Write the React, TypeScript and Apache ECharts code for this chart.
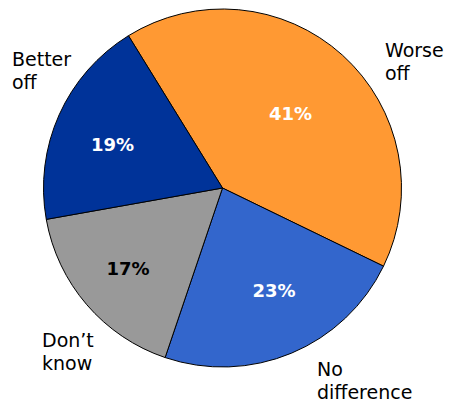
import React, { useEffect, useRef } from "react";
import * as echarts from "echarts";

const categories = ["Worse off", "No difference", "Don’t know", "Better off"];
const values = [41, 23, 17, 19];
const colors = ["#FF9933", "#3366CC", "#999999", "#003399"];
const valueTextColors = ["#FFFFFF", "#FFFFFF", "#000000", "#FFFFFF"];

// label anchor positions (px) for percent labels (centre) and category labels (left, middle)
const valueLabelPos = [
  [290.5, 113],
  [274, 290],
  [128, 268.5],
  [112.5, 144],
];
const nameLabelPos = [
  [385, 61],
  [317, 380],
  [42, 351],
  [12, 70],
];

export default function App() {
  const ref = useRef<HTMLDivElement>(null);
  useEffect(() => {
    if (!ref.current) return;
    const chart = echarts.init(ref.current, undefined, { renderer: "svg" });
    const data = categories.map((name, i) => ({
      name,
      value: values[i],
      itemStyle: { color: colors[i] },
      label: { color: valueTextColors[i] },
    }));
    chart.setOption({
      animation: false,
      series: [
        {
          type: "pie",
          center: [222.5, 188],
          radius: 179,
          startAngle: 121.7,
          clockwise: true,
          avoidLabelOverlap: false,
          itemStyle: { borderColor: "#000000", borderWidth: 1 },
          label: {
            show: true,
            position: "inside",
            formatter: "{c}%",
            fontFamily: "DejaVu Sans",
            fontWeight: "bold",
            fontSize: 18,
          },
          labelLine: { show: false },
          emphasis: { disabled: true },
          labelLayout: (p: any) => ({
            x: valueLabelPos[p.dataIndex][0],
            y: valueLabelPos[p.dataIndex][1],
            align: "center",
            verticalAlign: "middle",
          }),
          data,
        },
        {
          type: "pie",
          center: [222.5, 188],
          radius: 179,
          startAngle: 121.7,
          clockwise: true,
          silent: true,
          avoidLabelOverlap: false,
          itemStyle: { color: "rgba(0,0,0,0)", borderWidth: 0 },
          label: {
            show: true,
            position: "outside",
            formatter: (p: any) => p.name.split(" ").join("\n"),
            fontFamily: "DejaVu Sans",
            fontSize: 19,
            lineHeight: 23,
            color: "#000000",
            align: "left",
          },
          labelLine: { show: false },
          emphasis: { disabled: true },
          labelLayout: (p: any) => ({
            x: nameLabelPos[p.dataIndex][0],
            y: nameLabelPos[p.dataIndex][1],
            align: "left",
            verticalAlign: "middle",
          }),
          data: categories.map((name, i) => ({ name, value: values[i] })),
        },
      ],
    });
    return () => chart.dispose();
  }, []);
  return (
    <div
      ref={ref}
      style={{ position: "fixed", left: 0, top: 0, width: 449, height: 401, background: "#fff" }}
    />
  );
}
